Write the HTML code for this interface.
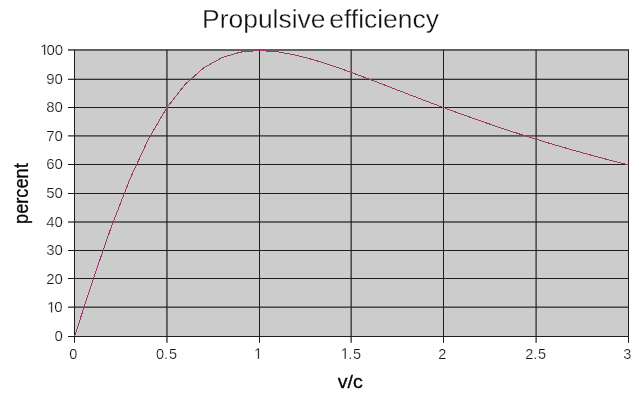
<!DOCTYPE html>
<html><head><meta charset="utf-8"><title>Propulsive efficiency</title>
<style>
html,body{margin:0;padding:0;background:#fff;}
body{width:640px;height:400px;overflow:hidden;}
svg{display:block;font-family:"Liberation Sans",sans-serif;}
</style></head><body>
<svg width="640" height="400" viewBox="0 0 640 400">
<rect x="0" y="0" width="640" height="400" fill="#ffffff"/>
<rect x="74" y="50" width="555" height="287" fill="#cccccc"/>
<rect x="68" y="49.300" width="561" height="1.300" fill="#1e1e1e"/>
<rect x="68" y="78.725" width="561" height="1.150" fill="#1e1e1e"/>
<rect x="68" y="107.000" width="561" height="1.000" fill="#1e1e1e"/>
<rect x="68" y="135.325" width="561" height="1.150" fill="#1e1e1e"/>
<rect x="68" y="164.000" width="561" height="1.000" fill="#1e1e1e"/>
<rect x="68" y="193.000" width="561" height="1.000" fill="#1e1e1e"/>
<rect x="68" y="221.400" width="561" height="1.200" fill="#1e1e1e"/>
<rect x="68" y="250.000" width="561" height="1.000" fill="#1e1e1e"/>
<rect x="68" y="278.000" width="561" height="1.000" fill="#1e1e1e"/>
<rect x="68" y="306.575" width="561" height="1.150" fill="#1e1e1e"/>
<rect x="68" y="336.000" width="561" height="1.000" fill="#1e1e1e"/>
<rect x="74.000" y="49.8" width="1.000" height="293" fill="#1e1e1e"/>
<rect x="166.350" y="49.8" width="1.200" height="293" fill="#1e1e1e"/>
<rect x="259.000" y="49.8" width="1.000" height="293" fill="#1e1e1e"/>
<rect x="350.575" y="49.8" width="1.150" height="293" fill="#1e1e1e"/>
<rect x="443.000" y="49.8" width="1.000" height="293" fill="#1e1e1e"/>
<rect x="535.525" y="49.8" width="1.150" height="293" fill="#1e1e1e"/>
<rect x="628.000" y="49.8" width="1.000" height="293" fill="#1e1e1e"/>
<polyline points="74.50,336.50 92.97,279.87 111.43,226.50 129.90,179.07 148.37,139.26 166.83,107.70 185.30,84.15 203.77,67.78 222.23,57.48 240.70,52.08 259.17,50.50 277.63,51.79 296.10,55.19 314.57,60.07 333.03,65.96 351.50,72.50 369.97,79.42 388.43,86.53 406.90,93.67 425.37,100.75 443.83,107.70 462.30,114.47 480.77,121.02 499.23,127.34 517.70,133.42 536.17,139.26 554.63,144.85 573.10,150.20 591.57,155.32 610.03,160.22 628.50,164.90" fill="none" stroke="#9b376a" stroke-width="1" shape-rendering="crispEdges"/>
<g opacity="0.999">
<g fill="#141414" stroke="#fff" stroke-width="0.22">
<path transform="translate(40.17,55.00) scale(0.007324,-0.007324)" d="M515 0V1237L197 1010V1180L530 1409H696V0Z" vector-effect="non-scaling-stroke"/>
<text transform="translate(46.52,55.00) scale(1.0000,1)" font-size="15.00">0</text>
<text transform="translate(54.86,55.00) scale(1.0000,1)" font-size="15.00">0</text>
<text transform="translate(46.22,83.60) scale(1.0000,1)" font-size="15.00">9</text>
<text transform="translate(54.56,83.60) scale(1.0000,1)" font-size="15.00">0</text>
<text transform="translate(46.22,112.20) scale(1.0000,1)" font-size="15.00">8</text>
<text transform="translate(54.56,112.20) scale(1.0000,1)" font-size="15.00">0</text>
<text transform="translate(46.22,140.80) scale(1.0000,1)" font-size="15.00">7</text>
<text transform="translate(54.56,140.80) scale(1.0000,1)" font-size="15.00">0</text>
<text transform="translate(46.22,169.40) scale(1.0000,1)" font-size="15.00">6</text>
<text transform="translate(54.56,169.40) scale(1.0000,1)" font-size="15.00">0</text>
<text transform="translate(46.22,198.00) scale(1.0000,1)" font-size="15.00">5</text>
<text transform="translate(54.56,198.00) scale(1.0000,1)" font-size="15.00">0</text>
<text transform="translate(46.22,226.60) scale(1.0000,1)" font-size="15.00">4</text>
<text transform="translate(54.56,226.60) scale(1.0000,1)" font-size="15.00">0</text>
<text transform="translate(46.22,255.20) scale(1.0000,1)" font-size="15.00">3</text>
<text transform="translate(54.56,255.20) scale(1.0000,1)" font-size="15.00">0</text>
<text transform="translate(46.22,283.80) scale(1.0000,1)" font-size="15.00">2</text>
<text transform="translate(54.56,283.80) scale(1.0000,1)" font-size="15.00">0</text>
<path transform="translate(47.12,312.40) scale(0.007324,-0.007324)" d="M515 0V1237L197 1010V1180L530 1409H696V0Z" vector-effect="non-scaling-stroke"/>
<text transform="translate(54.16,312.40) scale(1.0000,1)" font-size="15.00">0</text>
<text transform="translate(54.56,341.00) scale(1.0000,1)" font-size="15.00">0</text>
<text transform="translate(69.17,359.00) scale(0.9330,1)" font-size="15.55">0</text>
<text transform="translate(156.02,359.00) scale(0.9330,1)" font-size="15.55">0</text>
<text transform="translate(164.08,359.00) scale(0.9330,1)" font-size="15.55">.</text>
<text transform="translate(168.92,359.00) scale(0.9330,1)" font-size="15.55">5</text>
<path transform="translate(254.17,359.00) scale(0.007084,-0.007593)" d="M515 0V1237L197 1010V1180L530 1409H696V0Z" vector-effect="non-scaling-stroke"/>
<path transform="translate(340.92,359.00) scale(0.007084,-0.007593)" d="M515 0V1237L197 1010V1180L530 1409H696V0Z" vector-effect="non-scaling-stroke"/>
<text transform="translate(348.28,359.00) scale(0.9330,1)" font-size="15.55">.</text>
<text transform="translate(353.12,359.00) scale(0.9330,1)" font-size="15.55">5</text>
<text transform="translate(438.17,359.00) scale(0.9330,1)" font-size="15.55">2</text>
<text transform="translate(525.17,359.00) scale(0.9330,1)" font-size="15.55">2</text>
<text transform="translate(533.23,359.00) scale(0.9330,1)" font-size="15.55">.</text>
<text transform="translate(538.07,359.00) scale(0.9330,1)" font-size="15.55">5</text>
<text transform="translate(623.17,359.00) scale(0.9330,1)" font-size="15.55">3</text>
</g>
<text transform="translate(320.5,28) scale(1.058,1)" text-anchor="middle" font-size="25" word-spacing="-3.4" fill="#111" stroke="#fff" stroke-width="0.28">Propulsive efficiency</text>
<text transform="translate(350.2,387.9) scale(1.07,1)" text-anchor="middle" font-size="18.3" fill="#000" stroke="#000" stroke-width="0.3">v/c</text>
<text transform="translate(28.1,193.6) rotate(-90) scale(0.934,1)" text-anchor="middle" font-size="19.5" fill="#000" stroke="#000" stroke-width="0.3">percent</text>
</g>
</svg>
</body></html>
